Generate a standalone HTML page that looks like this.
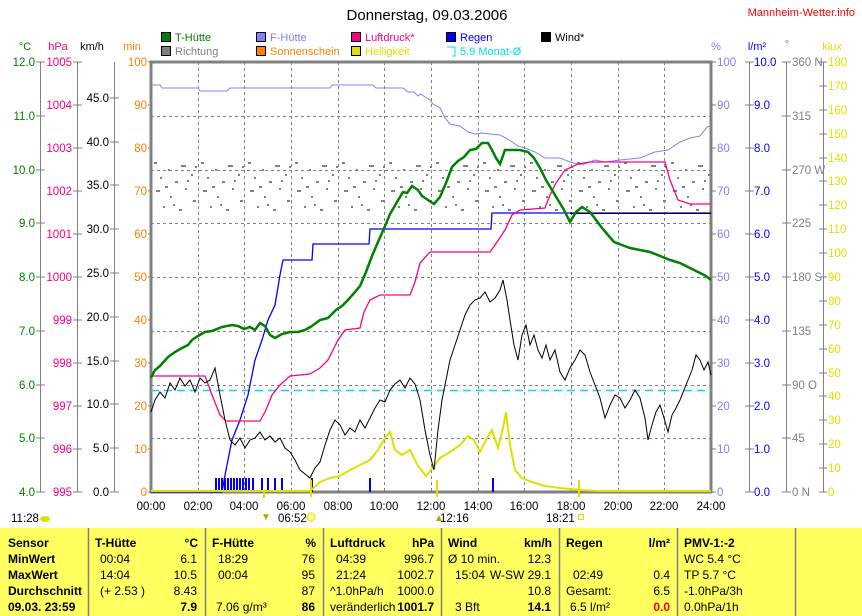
<!DOCTYPE html>
<html><head><meta charset="utf-8"><style>
body{margin:0;background:#fff;}
svg{display:block;font-family:"Liberation Sans",sans-serif;}
.t{font-size:11.5px;}
.tab{font-size:12px;}
.b{font-weight:bold;}
</style></head><body>
<svg width="862" height="616" viewBox="0 0 862 616" xmlns="http://www.w3.org/2000/svg">
<defs>
<pattern id="dots" x="151" y="160" width="47" height="56" patternUnits="userSpaceOnUse">
<rect x="3" y="2" width="3" height="2" fill="#808080"/><rect x="17" y="9" width="2" height="2" fill="#808080"/>
<rect x="30" y="5" width="5" height="2" fill="#808080"/><rect x="9" y="17" width="2" height="2" fill="#808080"/>
<rect x="24" y="21" width="3" height="2" fill="#808080"/><rect x="40" y="14" width="2" height="2" fill="#808080"/>
<rect x="5" y="30" width="4" height="2" fill="#808080"/><rect x="34" y="28" width="2" height="2" fill="#808080"/>
<rect x="19" y="36" width="2" height="2" fill="#808080"/><rect x="42" y="40" width="3" height="2" fill="#808080"/>
<rect x="12" y="46" width="2" height="2" fill="#808080"/><rect x="28" y="49" width="3" height="2" fill="#808080"/>
<rect x="36" y="20" width="2" height="2" fill="#808080"/><rect x="14" y="26" width="3" height="2" fill="#808080"/>
<rect x="44" y="6" width="2" height="2" fill="#808080"/><rect x="22" y="44" width="2" height="2" fill="#808080"/>
</pattern>
</defs>
<text x="427" y="20" text-anchor="middle" font-size="15">Donnerstag, 09.03.2006</text>
<text x="855" y="16" text-anchor="end" font-size="11" fill="#f00">Mannheim-Wetter.info</text>
<g font-size="11">
<rect x="161.5" y="32.5" width="9" height="9" fill="#008000" stroke="#000"/><text x="175" y="41" fill="#008000">T-Hütte</text>
<rect x="256.5" y="32.5" width="9" height="9" fill="#8080ff" stroke="#000"/><text x="270" y="41" fill="#8080ff">F-Hütte</text>
<rect x="351.5" y="32.5" width="9" height="9" fill="#ff0080" stroke="#000"/><text x="365" y="41" fill="#ff0080">Luftdruck*</text>
<rect x="446.5" y="32.5" width="9" height="9" fill="#0000ff" stroke="#000"/><text x="460" y="41" fill="#0000ff">Regen</text>
<rect x="541.5" y="32.5" width="9" height="9" fill="#000" stroke="#000"/><text x="555" y="41" fill="#000">Wind*</text>
<rect x="161.5" y="46.5" width="9" height="9" fill="#808080" stroke="#000"/><text x="175" y="55" fill="#808080">Richtung</text>
<rect x="256.5" y="46.5" width="9" height="9" fill="#ff8000" stroke="#000"/><text x="270" y="55" fill="#ff8000">Sonnenschein</text>
<rect x="351.5" y="46.5" width="9" height="9" fill="#e0e000" stroke="#000"/><text x="365" y="55" fill="#e0e000">Helligkeit</text>
<path d="M447 47H455V56H452" fill="none" stroke="#00e0e0"/><text x="460" y="55" fill="#00e0e0">5.9 Monat-Ø</text>
</g>
<g font-size="11">
<text x="25" y="50" text-anchor="middle" fill="#008000">°C</text>
<text x="58" y="50" text-anchor="middle" fill="#ff0080">hPa</text>
<text x="92" y="50" text-anchor="middle" fill="#000">km/h</text>
<text x="132" y="50" text-anchor="middle" fill="#ff8000">min</text>
<text x="716" y="50" text-anchor="middle" fill="#8080ff">%</text>
<text x="757" y="50" text-anchor="middle" fill="#0000ff">l/m²</text>
<text x="787" y="48" text-anchor="middle" fill="#808080">°</text>
<text x="832" y="50" text-anchor="middle" fill="#e0e000">klux</text>
</g>
<g stroke="#808080" stroke-dasharray="3,3" stroke-width="1">
<path d="M198.5 62V492M244.5 62V492M291.5 62V492M338.5 62V492M384.5 62V492M431.5 62V492M478.5 62V492M524.5 62V492M571.5 62V492M618.5 62V492M664.5 62V492"/>
<path d="M151 116.5H711M151 170.5H711M151 223.5H711M151 277.5H711M151 331.5H711M151 385.5H711M151 438.5H711"/>
</g>
<rect x="151" y="160" width="560" height="56" fill="url(#dots)"/>
<g stroke="#808080" fill="none">
<path d="M40.5 62V492M77.5 62V492M114.5 62V492"/>
<path d="M749.5 62V492M786.5 62V492M823.5 62V492"/>
<rect x="151" y="62" width="560" height="430" stroke-width="3"/>
</g>
<g stroke="#808080">
<path d="M36 62H45M36 116H45M36 170H45M36 223H45M36 277H45M36 331H45M36 385H45M36 438H45M36 492H45"/>
<path d="M73 62H82M73 105H82M73 148H82M73 191H82M73 234H82M73 277H82M73 320H82M73 363H82M73 406H82M73 449H82M73 492H82"/>
<path d="M110 492H119M110 448H119M110 404H119M110 361H119M110 317H119M110 273H119M110 229H119M110 185H119M110 142H119M110 98H119"/>
<path d="M148 62H151M148 105H151M148 148H151M148 191H151M148 234H151M148 277H151M148 320H151M148 363H151M148 406H151M148 449H151M148 492H151"/>
<path d="M711 62H716M711 105H716M711 148H716M711 191H716M711 234H716M711 277H716M711 320H716M711 363H716M711 406H716M711 449H716M711 492H716"/>
<path d="M745 62H754M745 105H754M745 148H754M745 191H754M745 234H754M745 277H754M745 320H754M745 363H754M745 406H754M745 449H754M745 492H754"/>
<path d="M782 62H791M782 116H791M782 170H791M782 223H791M782 277H791M782 331H791M782 385H791M782 438H791M782 492H791"/>
<path d="M819 62H827M819 86H827M819 110H827M819 134H827M819 158H827M819 181H827M819 205H827M819 229H827M819 253H827M819 277H827M819 301H827M819 325H827M819 349H827M819 373H827M819 396H827M819 420H827M819 444H827M819 468H827M819 492H827"/>
</g>
<g class="t" text-anchor="end" fill="#008000">
<text x="35" y="66">12.0</text><text x="35" y="120">11.0</text><text x="35" y="174">10.0</text><text x="35" y="227">9.0</text><text x="35" y="281">8.0</text><text x="35" y="335">7.0</text><text x="35" y="389">6.0</text><text x="35" y="442">5.0</text><text x="35" y="496">4.0</text>
</g>
<g class="t" text-anchor="end" fill="#ff0080">
<text x="72" y="66">1005</text><text x="72" y="109">1004</text><text x="72" y="152">1003</text><text x="72" y="195">1002</text><text x="72" y="238">1001</text><text x="72" y="281">1000</text><text x="72" y="324">999</text><text x="72" y="367">998</text><text x="72" y="410">997</text><text x="72" y="453">996</text><text x="72" y="496">995</text>
</g>
<g class="t" text-anchor="end" fill="#000">
<text x="109" y="496">0.0</text><text x="109" y="452">5.0</text><text x="109" y="408">10.0</text><text x="109" y="365">15.0</text><text x="109" y="321">20.0</text><text x="109" y="277">25.0</text><text x="109" y="233">30.0</text><text x="109" y="189">35.0</text><text x="109" y="146">40.0</text><text x="109" y="102">45.0</text>
</g>
<g class="t" text-anchor="end" fill="#ff8000">
<text x="147" y="66">100</text><text x="147" y="109">90</text><text x="147" y="152">80</text><text x="147" y="195">70</text><text x="147" y="238">60</text><text x="147" y="281">50</text><text x="147" y="324">40</text><text x="147" y="367">30</text><text x="147" y="410">20</text><text x="147" y="453">10</text><text x="147" y="496">0</text>
</g>
<g class="t" fill="#8080ff">
<text x="717" y="66">100</text><text x="717" y="109">90</text><text x="717" y="152">80</text><text x="717" y="195">70</text><text x="717" y="238">60</text><text x="717" y="281">50</text><text x="717" y="324">40</text><text x="717" y="367">30</text><text x="717" y="410">20</text><text x="717" y="453">10</text><text x="717" y="496">0</text>
</g>
<g class="t" fill="#0000ff">
<text x="754" y="66">10.0</text><text x="754" y="109">9.0</text><text x="754" y="152">8.0</text><text x="754" y="195">7.0</text><text x="754" y="238">6.0</text><text x="754" y="281">5.0</text><text x="754" y="324">4.0</text><text x="754" y="367">3.0</text><text x="754" y="410">2.0</text><text x="754" y="453">1.0</text><text x="754" y="496">0.0</text>
</g>
<g class="t" fill="#808080">
<text x="792" y="66">360 N</text><text x="792" y="120">315</text><text x="792" y="174">270 W</text><text x="792" y="227">225</text><text x="792" y="281">180 S</text><text x="792" y="335">135</text><text x="792" y="389">90  O</text><text x="792" y="442">45</text><text x="792" y="496">0    N</text>
</g>
<g class="t" fill="#e0e000">
<text x="828" y="66">180</text><text x="828" y="90">170</text><text x="828" y="114">160</text><text x="828" y="138">150</text><text x="828" y="162">140</text><text x="828" y="185">130</text><text x="828" y="209">120</text><text x="828" y="233">110</text><text x="828" y="257">100</text><text x="828" y="281">90</text><text x="828" y="305">80</text><text x="828" y="329">70</text><text x="828" y="353">60</text><text x="828" y="377">50</text><text x="828" y="400">40</text><text x="828" y="424">30</text><text x="828" y="448">20</text><text x="828" y="472">10</text><text x="828" y="496">0</text>
</g>
<path d="M151 390.5H711" stroke="#00e0e0" stroke-dasharray="8,5" stroke-width="1.5"/>
<path d="M216 478V492M219 478V492M222 478V492M225 478V492M228 478V492M231 478V492M234 478V492M237 478V492M240 478V492M243 478V492M246 478V492M249 478V492M253 478V492M262 478V492M268 478V492M275 478V492M282 478V492M312 478V492M370 478V492M493 478V492" stroke="#0000ff" stroke-width="2"/>
<polyline fill="none" stroke="#8080ff" stroke-width="1" points="151,85 160,85 162,88 198,88 200,91 227,91 230,88 330,88 332,85 373,85 376,88 403,88 408,92 414,92 418,96 421,94 425,97 430,100 433,104 440,108 445,118 450,124 460,126 468,132 475,134 482,133 490,134 500,135 506,138 512,142 518,146 525,148 535,152 545,158 560,158 570,162 582,165 595,160 605,162 620,160 640,158 655,152 668,150 680,142 690,138 700,136 707,127 711,126"/>
<polyline fill="none" stroke="#0000ff" stroke-width="1.3" points="151,492 222,492 226,470 232,440 240,420 248,395 255,360 262,340 268,320 275,305 280,275 283,260 312,260 313,244 369,244 370,229 491,229 492,213 711,213"/>
<path d="M570 213.5H711" stroke="#000" stroke-width="1"/>
<polyline fill="none" stroke="#ff0080" stroke-width="1.3" points="151,376 205,376 212,395 220,415 226,421 260,421 266,410 272,395 280,385 290,376 310,374 320,368 328,360 338,340 345,330 360,328 364,312 370,300 380,295 410,295 415,282 420,263 430,252 490,252 495,245 505,230 512,215 520,210 545,208 550,195 556,183 565,170 578,164 590,162 665,162 670,180 678,200 690,204 711,204"/>
<polyline fill="none" stroke="#e0e000" stroke-width="2" points="151,491 310,491 320,482 330,478 340,476 350,470 360,465 370,460 378,450 385,438 390,432 395,450 402,455 410,450 418,466 426,476 434,466 440,458 450,452 460,445 468,436 474,440 480,452 486,440 492,430 498,448 503,428 506,412 510,445 515,470 522,478 532,482 545,486 560,488 580,490 600,491 711,491"/>
<polyline fill="none" stroke="#000" stroke-width="1" points="151,412 155,400 160,392 165,398 170,383 175,390 180,378 185,386 190,380 195,392 200,378 205,383 210,380 215,368 220,395 225,420 230,440 235,445 240,438 245,448 250,440 255,438 260,432 265,440 270,436 275,442 280,438 285,448 290,452 295,460 300,470 305,474 310,478 315,468 320,462 325,445 330,430 335,420 340,425 345,435 350,428 355,432 360,420 365,428 370,418 375,408 380,400 385,402 390,390 395,384 400,380 405,388 410,378 415,384 420,400 425,430 430,455 434,470 438,430 442,400 446,380 450,360 455,345 460,330 465,315 470,305 475,300 480,298 485,292 490,302 495,298 500,290 503,280 507,300 510,320 514,345 518,360 522,335 526,325 530,345 534,335 538,350 542,358 546,345 550,360 555,350 560,372 565,380 570,368 575,360 580,350 585,355 590,372 595,385 600,398 605,418 610,405 615,395 620,398 625,408 630,400 635,390 640,398 645,418 648,440 652,425 656,412 660,405 664,418 668,432 672,415 676,408 680,400 684,390 688,380 692,370 696,355 700,360 704,370 708,362 711,375"/>
<polyline fill="none" stroke="#008000" stroke-width="2.5" points="151,378 155,370 160,366 168,357 175,352 182,348 188,345 192,340 198,336 205,332 212,331 222,327 232,325 238,326 244,329 250,327 255,330 260,323 265,326 270,335 275,338 282,334 290,332 298,332 305,330 312,326 320,320 328,318 336,310 342,306 348,300 355,292 360,286 366,272 372,256 378,242 385,226 390,214 397,202 403,192 407,193 412,186 418,190 422,196 428,200 434,204 440,197 446,183 452,167 458,161 464,157 470,150 476,149 482,143 488,143 492,150 496,158 500,164 505,150 512,150 520,150 528,152 534,158 540,168 546,180 552,190 558,200 564,210 570,222 576,212 582,207 590,212 596,220 602,228 608,235 614,242 622,245 630,248 640,250 650,252 660,256 670,260 680,263 690,268 700,273 706,276 711,280"/>
<g class="t" text-anchor="middle">
<text x="151" y="510">00:00</text><text x="198" y="510">02:00</text><text x="244" y="510">04:00</text><text x="291" y="510">06:00</text><text x="338" y="510">08:00</text><text x="384" y="510">10:00</text><text x="431" y="510">12:00</text><text x="478" y="510">14:00</text><text x="524" y="510">16:00</text><text x="571" y="510">18:00</text><text x="618" y="510">20:00</text><text x="664" y="510">22:00</text><text x="711" y="510">24:00</text>
</g>
<path d="M264 492V498M311 480V497M579 480V497M437 480V497" stroke="#e0e000" stroke-width="2"/>
<g class="t">
<text x="11" y="522">11:28</text><ellipse cx="45" cy="519" rx="5" ry="3" fill="#e0e000"/>
<text x="278" y="522">06:52</text><circle cx="311" cy="517" r="4" fill="#ffff80" stroke="#e0e000"/>
<text x="261" y="520" fill="#c0a000" font-size="10">▼</text>
<text x="440" y="522">12:16</text><text x="434" y="521" fill="#c0a000" font-size="10">▲</text>
<text x="546" y="522">18:21</text><rect x="578.5" y="514.5" width="5" height="5" fill="none" stroke="#e0e000"/>
</g>
<rect x="0" y="528" width="862" height="88" fill="#ffff60"/>
<path d="M88.5 528V616M205.5 528V616M323.5 528V616M441.5 528V616M559.5 528V616M677.5 528V616M795.5 528V616" stroke="#808080" stroke-width="1.5"/>
<g class="tab">
<text x="8" y="547" class="b">Sensor</text><text x="8" y="563" class="b">MinWert</text><text x="8" y="579" class="b">MaxWert</text><text x="8" y="595" class="b">Durchschnitt</text><text x="8" y="611" class="b">09.03. 23:59</text>
<text x="95" y="547" class="b">T-Hütte</text><text x="198" y="547" class="b" text-anchor="end">°C</text>
<text x="100" y="563">00:04</text><text x="197" y="563" text-anchor="end">6.1</text>
<text x="100" y="579">14:04</text><text x="197" y="579" text-anchor="end">10.5</text>
<text x="100" y="595">(+ 2.53 )</text><text x="197" y="595" text-anchor="end">8.43</text>
<text x="197" y="611" text-anchor="end" class="b">7.9</text>
<text x="212" y="547" class="b">F-Hütte</text><text x="316" y="547" class="b" text-anchor="end">%</text>
<text x="218" y="563">18:29</text><text x="315" y="563" text-anchor="end">76</text>
<text x="218" y="579">00:04</text><text x="315" y="579" text-anchor="end">95</text>
<text x="315" y="595" text-anchor="end">87</text>
<text x="216" y="611">7.06 g/m³</text><text x="315" y="611" text-anchor="end" class="b">86</text>
<text x="330" y="547" class="b">Luftdruck</text><text x="434" y="547" class="b" text-anchor="end">hPa</text>
<text x="336" y="563">04:39</text><text x="434" y="563" text-anchor="end">996.7</text>
<text x="336" y="579">21:24</text><text x="434" y="579" text-anchor="end">1002.7</text>
<text x="330" y="595">^1.0hPa/h</text><text x="434" y="595" text-anchor="end">1000.0</text>
<text x="330" y="611">veränderlich</text><text x="434" y="611" text-anchor="end" class="b">1001.7</text>
<text x="448" y="547" class="b">Wind</text><text x="552" y="547" class="b" text-anchor="end">km/h</text>
<text x="448" y="563">Ø 10 min.</text><text x="551" y="563" text-anchor="end">12.3</text>
<text x="455" y="579">15:04</text><text x="551" y="579" text-anchor="end">W-SW 29.1</text>
<text x="551" y="595" text-anchor="end">10.8</text>
<text x="455" y="611">3 Bft</text><text x="551" y="611" text-anchor="end" class="b">14.1</text>
<text x="566" y="547" class="b">Regen</text><text x="670" y="547" class="b" text-anchor="end">l/m²</text>
<text x="573" y="579">02:49</text><text x="670" y="579" text-anchor="end">0.4</text>
<text x="566" y="595">Gesamt:</text><text x="670" y="595" text-anchor="end">6.5</text>
<text x="570" y="611">6.5 l/m²</text><text x="670" y="611" text-anchor="end" class="b" fill="#f00">0.0</text>
<text x="684" y="547" class="b">PMV-1:-2</text>
<text x="684" y="563">WC 5.4 °C</text><text x="684" y="579">TP 5.7 °C</text><text x="684" y="595">-1.0hPa/3h</text><text x="684" y="611">0.0hPa/1h</text>
</g>
</svg>
</body></html>
